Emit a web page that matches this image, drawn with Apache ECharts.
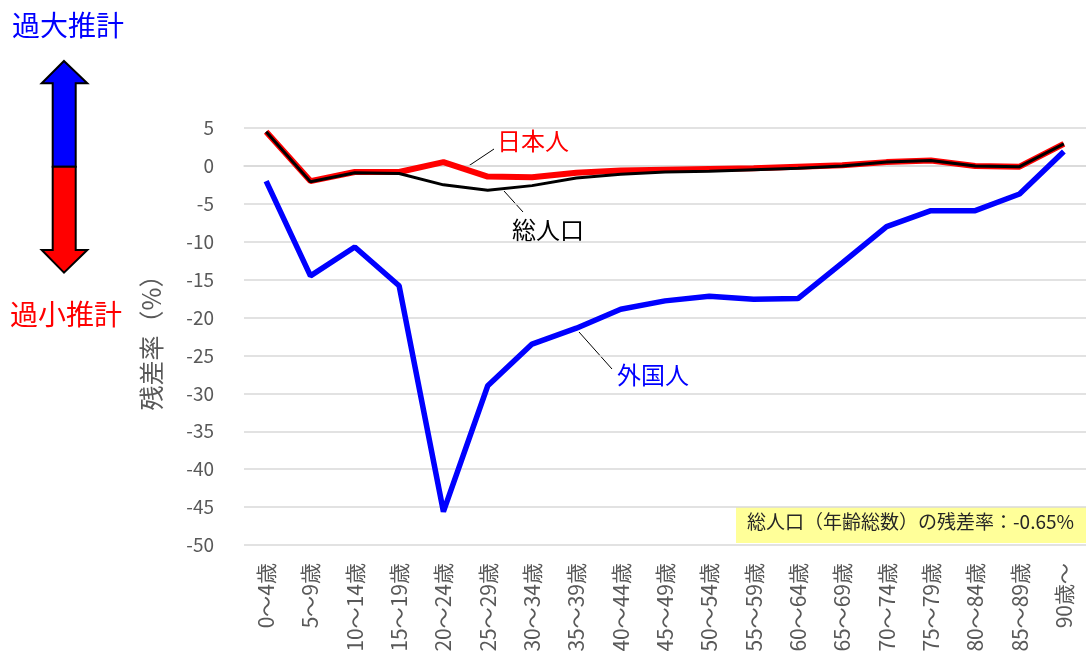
<!DOCTYPE html>
<html>
<head>
<meta charset="utf-8">
<script src="https://cdn.jsdelivr.net/npm/echarts/dist/echarts.min.js"></script>
<style>
    html, body { margin: 0; padding: 0; background: #fff; }
    #chart { width: 1086px; height: 657px; }
</style>
</head>
<body>
<div id="chart"></div>
<script>
    // 年齢区分
    const ageGroups = ['0～4歳', '5～9歳', '10～14歳', '15～19歳', '20～24歳', '25～29歳', '30～34歳',
        '35～39歳', '40～44歳', '45～49歳', '50～54歳', '55～59歳', '60～64歳', '65～69歳',
        '70～74歳', '75～79歳', '80～84歳', '85～89歳', '90歳～'];
    // 残差率（%）
    const japanese = [4.5, -2.0, -0.8, -0.8, 0.5, -1.4, -1.5, -0.9, -0.6, -0.5, -0.4, -0.3, -0.1, 0.1, 0.5, 0.7, 0.0, -0.1, 2.9];
    const total = [4.5, -2.1, -0.9, -1.0, -2.5, -3.2, -2.6, -1.6, -1.1, -0.8, -0.7, -0.5, -0.3, 0.0, 0.5, 0.7, 0.0, -0.1, 2.9];
    const foreign = [-2.0, -14.5, -10.7, -15.8, -45.6, -29.0, -23.5, -21.4, -18.9, -17.8, -17.2, -17.6, -17.5, -12.8, -8.0, -5.9, -5.9, -3.7, 1.9];
    const yTicks = {min: -50, max: 5, interval: 5};
    const totalRateText = '総人口（年齢総数）の残差率：-0.65%';

    const font = '"Noto Sans CJK JP", "Noto Sans", sans-serif';
    const chart = echarts.init(document.getElementById('chart'));

    chart.setOption({
        animation: false,
        grid: {
            left: 244,
            top: 128,
            width: 853,
            height: 417
        },
        xAxis: {
            type: 'category',
            data: ageGroups,
            boundaryGap: true,
            axisLine: {
                lineStyle: {color: '#d9d9d9', width: 1.5}
            },
            axisTick: {show: false},
            axisLabel: {
                rotate: 90,
                margin: 18,
                color: '#595959',
                fontSize: 21,
                fontFamily: font
            }
        },
        yAxis: {
            type: 'value',
            min: yTicks.min,
            max: yTicks.max,
            interval: yTicks.interval,
            name: '残差率（%）',
            nameLocation: 'middle',
            nameGap: 80,
            nameRotate: 90,
            nameTextStyle: {
                color: '#595959',
                fontSize: 25,
                fontFamily: font
            },
            axisLine: {show: false},
            axisTick: {show: false},
            splitLine: {
                lineStyle: {color: '#d9d9d9', width: 1.5}
            },
            axisLabel: {
                margin: 30,
                color: '#595959',
                fontSize: 19,
                fontFamily: font
            }
        },
        series: [
            {
                name: '日本人',
                type: 'line',
                data: japanese,
                showSymbol: false,
                symbol: 'none',
                lineStyle: {color: '#ff0000', width: 6}
            },
            {
                name: '総人口',
                type: 'line',
                data: total,
                showSymbol: false,
                symbol: 'none',
                lineStyle: {color: '#000000', width: 3}
            },
            {
                name: '外国人',
                type: 'line',
                data: foreign,
                showSymbol: false,
                symbol: 'none',
                lineStyle: {color: '#0000ff', width: 5.5}
            }
        ],
        graphic: [
            // 左側の矢印と見出し
            {
                type: 'text',
                left: 12, top: 11,
                style: {text: '過大推計', fill: '#0000ff', font: '28px ' + font}
            },
            {
                type: 'text',
                left: 10, top: 300,
                style: {text: '過小推計', fill: '#ff0000', font: '28px ' + font}
            },
            {
                type: 'polygon',
                shape: {points: [[64, 61], [87.3, 83.3], [75.7, 83.3], [75.7, 166.7], [52.7, 166.7], [52.7, 83.3], [41.7, 83.3]]},
                style: {fill: '#0000ff', stroke: '#000', lineWidth: 2}
            },
            {
                type: 'polygon',
                shape: {points: [[52.7, 166.7], [75.7, 166.7], [75.7, 250], [87.3, 250], [64, 272.7], [41.7, 250], [52.7, 250]]},
                style: {fill: '#ff0000', stroke: '#000', lineWidth: 2}
            },
            // 系列ラベル
            {
                type: 'line',
                shape: {x1: 467, y1: 167, x2: 494, y2: 149},
                style: {stroke: '#000', lineWidth: 1}
            },
            {
                type: 'text',
                left: 497, top: 129,
                style: {text: '日本人', fill: '#ff0000', font: '24px ' + font}
            },
            {
                type: 'line',
                shape: {x1: 504, y1: 191, x2: 523, y2: 212},
                style: {stroke: '#000', lineWidth: 1}
            },
            {
                type: 'text',
                left: 512, top: 218,
                style: {text: '総人口', fill: '#000000', font: '24px ' + font}
            },
            {
                type: 'line',
                shape: {x1: 579, y1: 332, x2: 612, y2: 369},
                style: {stroke: '#000', lineWidth: 1}
            },
            {
                type: 'text',
                left: 617, top: 363,
                style: {text: '外国人', fill: '#0000ff', font: '24px ' + font}
            },
            // 総人口の残差率
            {
                type: 'rect',
                shape: {x: 736, y: 507, width: 360, height: 36},
                style: {fill: '#ffff99'}
            },
            {
                type: 'text',
                left: 747, top: 512,
                style: {text: totalRateText, fill: '#262626', font: '19px ' + font}
            }
        ]
    });
</script>
</body>
</html>
